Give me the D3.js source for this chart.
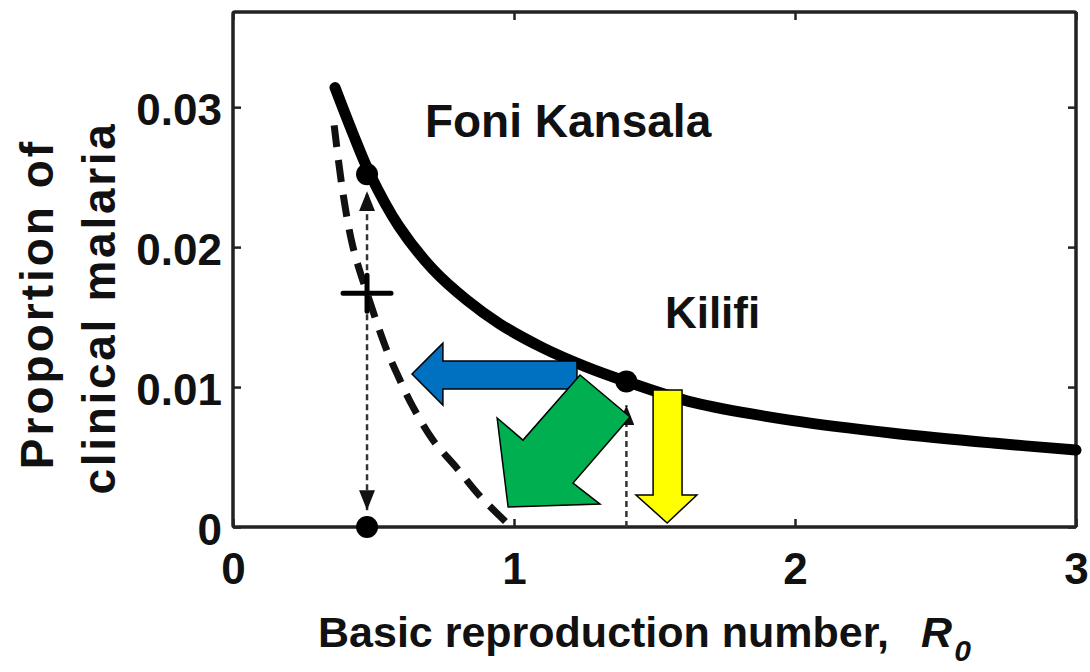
<!DOCTYPE html>
<html><head><meta charset="utf-8">
<script src="https://cdn.jsdelivr.net/npm/d3@7"></script>
<style>
body{margin:0;background:#fff}
svg{display:block}
text{font-family:"Liberation Sans",Arial,Helvetica,sans-serif;font-weight:bold;fill:#111}
</style>
</head><body>
<svg id="chart" width="1090" height="672"></svg>
<script>
// ---------- data ----------
const xTicks = [0, 1, 2, 3];
const xTickLabels = ["0", "1", "2", "3"];
const yTicks = [0, 0.01, 0.02, 0.03];
const yTickLabels = ["0", "0.01", "0.02", "0.03"];

// solid curve: proportion of clinical malaria vs R0
const solidR0 = [0.363, 0.427, 0.488, 0.59, 0.712, 0.833, 0.95, 1.103, 1.25, 1.40, 1.637, 1.993, 2.349, 2.705, 3.0];
const solidP  = [0.0314, 0.0281, 0.0252, 0.0215, 0.0184, 0.0162, 0.0145, 0.0128, 0.0115, 0.0104, 0.0089, 0.0076, 0.0067, 0.0060, 0.0055];

// dashed curve
const dashedR0 = [0.36, 0.391, 0.427, 0.477, 0.548, 0.594, 0.64, 0.712, 0.797, 0.879, 0.99];
const dashedP  = [0.0287, 0.0239, 0.0200, 0.0167, 0.0126, 0.0105, 0.0086, 0.0062, 0.0042, 0.0022, 0.0];

// site points (filled dots)
const dotR0 = [0.477, 1.40, 0.477];
const dotP  = [0.0252, 0.0104, 0.0];

// plus marker
const plusR0 = [0.477];
const plusP  = [0.0167];

// dotted arrows
const dottedR0    = [0.477, 1.40];
const dottedFromP = [0.0012, 0.0];
const dottedToP   = [0.0240, 0.0087];
const dottedBoth  = [true, false];

// site labels
const siteNames = ["Foni Kansala", "Kilifi"];
const siteR0 = [0.683, 1.537];
const siteP  = [0.02786, 0.01421];

// annotation arrows (polygons in data coordinates)
const blueR0 = [0.637, 0.747, 0.747, 1.224, 1.224, 0.747, 0.747];
const blueP  = [0.01093, 0.01314, 0.01186, 0.01186, 0.00986, 0.00986, 0.00871];
const greenR0 = [1.235, 1.413, 1.210, 1.306, 0.979, 0.940, 1.032];
const greenP  = [0.01086, 0.00786, 0.00314, 0.00164, 0.00143, 0.00779, 0.00621];
const yellowR0 = [1.495, 1.598, 1.598, 1.651, 1.545, 1.434, 1.495];
const yellowP  = [0.00979, 0.00979, 0.00229, 0.00229, 0.00029, 0.00229, 0.00229];

// ---------- layout ----------
const L = 233, R = 1076, T = 12, B = 527;
const svg = d3.select("#chart");
const x = d3.scaleLinear().domain([0, 3]).range([L, R]);
const y = d3.scaleLinear().domain([0, 0.0368]).range([B, T]);

// axes (inward ticks)
const axB = svg.append("g").attr("transform", `translate(0,${B})`)
  .call(d3.axisBottom(x).tickValues(xTicks).tickFormat((d,i)=>xTickLabels[i]).tickSizeInner(-8).tickSizeOuter(0).tickPadding(26));
const axL = svg.append("g").attr("transform", `translate(${L},0)`)
  .call(d3.axisLeft(y).tickValues(yTicks).tickFormat((d,i)=>yTickLabels[i]).tickSizeInner(-8).tickSizeOuter(0).tickPadding(11));
const axT = svg.append("g").attr("transform", `translate(0,${T})`)
  .call(d3.axisTop(x).tickValues(xTicks).tickFormat("").tickSizeInner(-8).tickSizeOuter(0));
const axR = svg.append("g").attr("transform", `translate(${R},0)`)
  .call(d3.axisRight(y).tickValues(yTicks).tickFormat("").tickSizeInner(-8).tickSizeOuter(0));
[axB, axL, axT, axR].forEach(g => {
  g.select(".domain").remove();
  g.selectAll(".tick line").attr("stroke", "#222").attr("stroke-width", 2.5);
  g.selectAll("text").attr("font-size", 44).attr("font-family", '"Liberation Sans",Arial,sans-serif').attr("font-weight", "bold").attr("fill", "#111");
});
axL.selectAll("text").attr("dy", "0.4em");

// frame
svg.append("rect").attr("x", L).attr("y", T).attr("width", R - L).attr("height", B - T)
  .attr("fill", "none").attr("stroke", "#222").attr("stroke-width", 3.5).attr("rx", 2);

// defs for arrowheads
const defs = svg.append("defs");
defs.append("marker").attr("id", "ah").attr("viewBox", "0 0 10 10")
  .attr("refX", 10).attr("refY", 5).attr("markerWidth", 20).attr("markerHeight", 16)
  .attr("markerUnits", "userSpaceOnUse").attr("orient", "auto-start-reverse")
  .attr("preserveAspectRatio", "none")
  .append("path").attr("d", "M0,0 L10,5 L0,10 Z").attr("fill", "#111");

const line = d3.line().x(d => x(d[0])).y(d => y(d[1])).curve(d3.curveCatmullRom.alpha(0.5));

// dashed curve
svg.append("path").datum(dashedR0.map((r, i) => [r, dashedP[i]]))
  .attr("d", line).attr("fill", "none").attr("stroke", "#111")
  .attr("stroke-width", 7).attr("stroke-dasharray", "22,13");

// solid curve
svg.append("path").datum(solidR0.map((r, i) => [r, solidP[i]]))
  .attr("d", line).attr("fill", "none").attr("stroke", "#000")
  .attr("stroke-width", 11).attr("stroke-linecap", "round");

// dotted arrows
dottedR0.forEach((r, i) => {
  const l = svg.append("line")
    .attr("x1", x(r)).attr("x2", x(r))
    .attr("y1", y(dottedFromP[i])).attr("y2", y(dottedToP[i]))
    .attr("stroke", "#333").attr("stroke-width", 2.5).attr("stroke-dasharray", "6,4")
    .attr("marker-end", "url(#ah)");
  if (dottedBoth[i]) l.attr("marker-start", "url(#ah)");
});

// dots
svg.selectAll("circle.site").data(dotR0.map((r, i) => [r, dotP[i]])).join("circle")
  .attr("class", "site").attr("cx", d => x(d[0])).attr("cy", d => y(d[1])).attr("r", 11).attr("fill", "#000");

// plus marker
plusR0.forEach((r, i) => {
  const cx = x(r), cy = y(plusP[i]);
  svg.append("path").attr("d", `M${cx-24},${cy}L${cx+24},${cy}M${cx},${cy-18}L${cx},${cy+18}`)
    .attr("stroke", "#000").attr("stroke-width", 5).attr("stroke-linecap", "round");
});

// site labels
svg.selectAll("text.site").data(siteNames).join("text").attr("class", "site")
  .attr("x", (d, i) => x(siteR0[i])).attr("y", (d, i) => y(siteP[i]))
  .attr("font-size", (d, i) => i === 0 ? 46 : 44).text(d => d);

// axis titles
const xl = svg.append("text").attr("x", 318).attr("y", 647).attr("font-size", 43);
xl.append("tspan").text("Basic reproduction number,");
xl.append("tspan").attr("dx", 32).attr("font-style", "italic").text("R");
xl.append("tspan").attr("dy", 14).attr("dx", 2).attr("font-style", "italic").attr("font-size", 30).text("0");

svg.append("text").attr("transform", "translate(53,304) rotate(-90)").attr("text-anchor", "middle")
  .attr("font-size", 46).attr("letter-spacing", 3).text("Proportion of");
svg.append("text").attr("transform", "translate(115,308) rotate(-90)").attr("text-anchor", "middle")
  .attr("font-size", 46).attr("letter-spacing", 2.7).text("clinical malaria");

// colored annotation arrows
const poly = (rs, ps) => "M" + rs.map((r, i) => `${x(r)},${y(ps[i])}`).join("L") + "Z";
svg.append("path").attr("d", poly(blueR0, blueP)).attr("fill", "#0070C0").attr("stroke", "#000").attr("stroke-width", 1.5);
svg.append("path").attr("d", poly(greenR0, greenP)).attr("fill", "#00B050").attr("stroke", "#000").attr("stroke-width", 1.5);
svg.append("path").attr("d", poly(yellowR0, yellowP)).attr("fill", "#FFFF00").attr("stroke", "#000").attr("stroke-width", 1.5);
</script>
</body></html>
